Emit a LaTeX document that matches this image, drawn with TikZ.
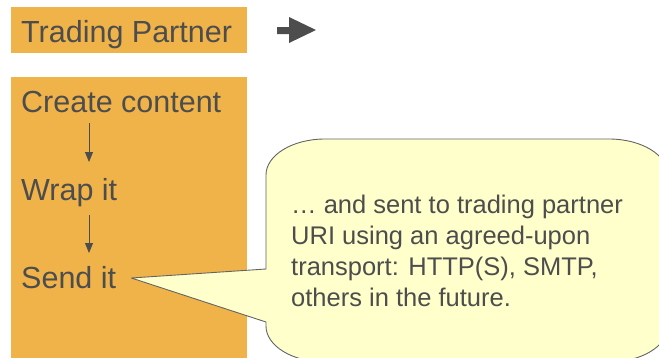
\documentclass[tikz,border=0pt]{standalone}
\usepackage{fontspec}
\setmainfont{Liberation Sans}
\usetikzlibrary{arrows.meta,calc}

\definecolor{boxorange}{RGB}{239,179,74}
\definecolor{inkgray}{RGB}{77,77,77}
\definecolor{noteyellow}{RGB}{255,255,204}
\definecolor{noteedge}{RGB}{100,100,100}

\tikzset{
  steplabel/.style={anchor=base west, inner sep=0pt, text=inkgray,
    font=\fontsize{30.5}{36}\selectfont},
  notetext/.style={anchor=base west, inner sep=0pt, text=inkgray, align=left,
    font=\fontsize{25.5}{31}\selectfont},
  flow/.style={draw=inkgray, line width=1pt,
    -{Triangle[width=8pt,length=10pt]}},
  panel/.style={fill=boxorange},
  bubble/.style={fill=noteyellow, draw=noteedge, line width=0.9pt, line join=round},
}

\begin{document}
\begin{tikzpicture}[x=1pt,y=1pt]
\useasboundingbox (0,0) rectangle (659,-357);
\clip (0,0) rectangle (659,-357);

% orange panels
\fill[panel] (11,-7) rectangle (247,-53);
\fill[panel] (11,-77) rectangle (247,-362);

% header label and block arrow
\node[steplabel] (tp) at (21,-42) {Trading Partner};
\fill[inkgray] (277,-27) -- (289,-27) -- (289,-17) -- (316,-30)
  -- (289,-43) -- (289,-34) -- (277,-34) -- cycle;

% process steps
\node[steplabel] (create) at (21,-112) {Create content};
\node[steplabel] (wrap)   at (21,-200) {Wrap it};
\node[steplabel] (send)   at (21,-288) {Send it};

\coordinate (ax) at (89,0);
\draw[flow] ([yshift=-11pt]create.base -| ax) -- ([yshift=38pt]wrap.base -| ax);
\draw[flow] ([yshift=-15pt]wrap.base -| ax) -- ([yshift=35pt]send.base -| ax);

% speech bubble pointing at the last step
\coordinate (tip) at ([xshift=15pt,yshift=10pt]send.base east);
\draw[bubble] (266,-269) -- (tip) -- (266,-322) -- (266,-326)
  arc[start angle=180, end angle=270, x radius=59, y radius=36]
  -- (609,-362)
  arc[start angle=270, end angle=360, x radius=59, y radius=36]
  -- (668,-175)
  arc[start angle=0, end angle=90, x radius=59, y radius=36]
  -- (325,-139)
  arc[start angle=90, end angle=180, x radius=59, y radius=36]
  -- cycle;

% bubble text, anchored at the baseline of its last line
\node[notetext] (note) at (291,-306)
  {… and sent to trading partner\\
   URI using an agreed-upon\\
   transport: HTTP(S), SMTP,\\
   others in the future.};
\end{tikzpicture}
\end{document}
